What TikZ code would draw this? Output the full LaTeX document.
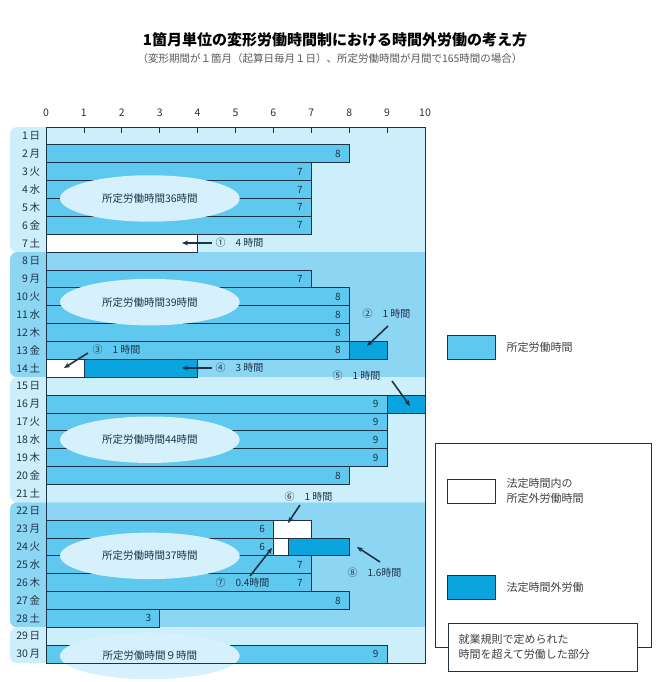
\documentclass[tikz,border=0pt]{standalone}
\usepackage{fontspec}
\setmainfont{Noto Sans CJK JP}
\usetikzlibrary{arrows.meta}
\definecolor{bandL}{HTML}{CDEEFB}
\definecolor{bandM}{HTML}{8DD6F3}
\definecolor{barc}{HTML}{5EC8EE}
\definecolor{otc}{HTML}{0AA5DF}
\definecolor{ellc}{HTML}{D6F1FC}
\definecolor{edge}{HTML}{1E3348}
\begin{document}
\begin{tikzpicture}[x=1pt,y=-1pt,
  bar/.style={fill=barc,draw=edge,line width=0.8pt},
  ot/.style={fill=otc,draw=edge,line width=0.8pt},
  wt/.style={fill=white,draw=edge,line width=0.8pt},
  val/.style={font=\fontsize{10}{10}\selectfont,text=edge},
  day/.style={font=\fontsize{10.5}{10.5}\selectfont,anchor=east,text=edge},
  ann/.style={font=\fontsize{10}{10}\selectfont,text=edge,anchor=west},
  arr/.style={-{Stealth[length=6pt,width=5pt]},line width=1.6pt,draw=edge},
  leg/.style={font=\fontsize{11}{11}\selectfont,text=black!75,anchor=west}]
\useasboundingbox (0,0) rectangle (661,682);
\node[font=\bfseries\fontsize{15}{15}\selectfont] (title) at (335,40) {1箇月単位の変形労働時間制における時間外労働の考え方};
\node[font=\fontsize{10.5}{10.5}\selectfont,text=black!65] (sub) at (330,59) {（変形期間が１箇月（起算日毎月１日）、所定労働時間が月間で165時間の場合）};
\begin{scope}[shift={(46,127)},x=37.9pt,y=-17.87pt]
  % bands
  \foreach \a/\b/\c in {0/7/bandL,7/14/bandM,14/21/bandL,21/28/bandM,28/30/bandL}{
    \fill[\c] (10,\a) [rounded corners=7pt] -- (-0.95,\a) -- (-0.95,\b) [sharp corners] -- (10,\b) -- cycle;
  }
  % bars
  \foreach \r/\v in {2/8,3/7,4/7,5/7,6/7,9/7,10/8,11/8,12/8,13/8,16/9,17/9,18/9,19/9,20/8,23/6,24/6,25/7,26/7,27/8,28/3,30/9}{
    \draw[bar] (0,{\r-1}) rectangle (\v,\r);
  }
  \draw[wt] (0,6) rectangle (4,7);
  \draw[ot] (8,12) rectangle (9,13);
  \draw[wt] (0,13) rectangle (1,14);
  \draw[ot] (1,13) rectangle (4,14);
  \draw[ot] (9,15) rectangle (10,16);
  \draw[wt] (6,22) rectangle (7,23);
  \draw[wt] (6,23) rectangle (6.4,24);
  \draw[ot] (6.4,23) rectangle (8,24);
  % ellipses
  \foreach \nm/\cx/\cy/\t in {e1/2.74/4.0/所定労働時間36時間,e2/2.74/9.8/所定労働時間39時間,e3/2.74/17.5/所定労働時間44時間,e4/2.74/24.0/所定労働時間37時間,e5/2.74/29.6/所定労働時間９時間}{
    \fill[ellc] (\cx,\cy) ellipse [x radius=2.37, y radius=1.3];
    \node[font=\fontsize{10.5}{10.5}\selectfont,text=edge] (\nm) at (\cx,\cy) {\t};
  }
  % values
  \foreach \r/\v in {2/8,3/7,4/7,5/7,6/7,9/7,10/8,11/8,12/8,13/8,16/9,17/9,18/9,19/9,20/8,23/6,24/6,25/7,26/7,27/8,28/3,30/9}{
    \node[val] at ({\v-0.3},{\r-0.5}) {\v};
  }
  % frame
  \draw[edge,line width=1pt] (0,0) rectangle (10,30);
  \foreach \i in {0,...,10}{
    \draw[edge,line width=0.8pt] (\i,0) -- (\i,0.35);
    \node[font=\fontsize{10.5}{10.5}\selectfont,text=edge] at (\i,-0.8) {\i};
  }
  % day labels
  \foreach \d [evaluate=\d as \k using {int(mod(\d-1,7))}] in {1,...,30}{
    \node[day] at (-0.06,{\d-0.5}) {\d\,\ifcase\k 日\or 月\or 火\or 水\or 木\or 金\or 土\fi};
  }
\end{scope}
% annotations
\node[ann] (a1) at (212,243) {①\quad 4 時間};
\coordinate (a1s) at (212,243); \coordinate (a1e) at (182,243);
\draw[arr] (a1s) -- (a1e);
\node[ann] (a2) at (359,314) {②\quad 1 時間};
\coordinate (a2s) at (388,326); \coordinate (a2e) at (367,346);
\draw[arr] (a2s) -- (a2e);
\node[ann] (a3) at (89,350) {③\quad 1 時間};
\coordinate (a3s) at (88,353); \coordinate (a3e) at (64,368);
\draw[arr] (a3s) -- (a3e);
\node[ann] (a4) at (212,368) {④\quad 3 時間};
\coordinate (a4s) at (212,368); \coordinate (a4e) at (182,368);
\draw[arr] (a4s) -- (a4e);
\node[ann] (a5) at (329,376) {⑤\quad 1 時間};
\coordinate (a5s) at (392,381); \coordinate (a5e) at (410,406);
\draw[arr] (a5s) -- (a5e);
\node[ann] (a6) at (281,497) {⑥\quad 1 時間};
\coordinate (a6s) at (300,505); \coordinate (a6e) at (288,523);
\draw[arr] (a6s) -- (a6e);
\node[ann] (a7) at (212,583) {⑦\quad 0.4時間};
\coordinate (a7s) at (250,576); \coordinate (a7e) at (272,548);
\draw[arr] (a7s) -- (a7e);
\node[ann] (a8) at (344,573) {⑧\quad 1.6時間};
\coordinate (a8s) at (380,562); \coordinate (a8e) at (357,547);
\draw[arr] (a8s) -- (a8e);
% legend
\draw[bar] (447,335) rectangle (495,359);
\node[leg] (l1) at (503,347) {所定労働時間};
\draw[edge,line width=0.8pt,fill=white] (435,443) rectangle (651,647);
\draw[wt] (447,479) rectangle (495,503);
\node[leg,align=left] (l2) at (503,491) {法定時間内の\\[4pt]所定外労働時間};
\draw[ot] (447,575) rectangle (495,599);
\node[leg] (l3) at (503,587) {法定時間外労働};
\draw[edge,line width=0.8pt,fill=white] (448,623) rectangle (637,671);
\node[leg,align=left] (l4) at (455,647) {就業規則で定められた\\[4pt]時間を超えて労働した部分};
\end{tikzpicture}
\end{document}
